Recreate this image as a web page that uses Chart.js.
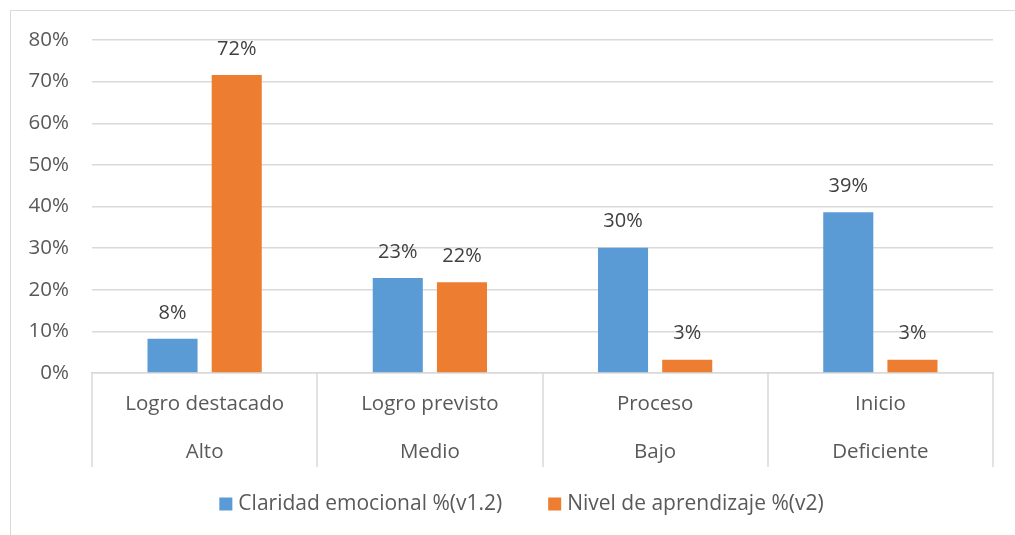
<!DOCTYPE html>
<html>
<head>
<meta charset="utf-8">
<script src="https://cdn.jsdelivr.net/npm/chart.js@4/dist/chart.umd.min.js"></script>
<style>
    html, body { margin: 0; padding: 0; background: #fff; overflow: hidden; }
    #frame {
        position: absolute; left: 10px; top: 10px; width: 1040px; height: 560px;
        border: 1px solid #d9d9d9; box-sizing: border-box;
    }
    #wrap { position: absolute; left: 0; top: 0; width: 1015px; height: 535px; }
</style>
</head>
<body>
<div id="frame"></div>
<div id="wrap"><canvas id="chart"></canvas></div>
<script>
const categories = [
    ['Logro destacado', 'Alto'],
    ['Logro previsto', 'Medio'],
    ['Proceso', 'Bajo'],
    ['Inicio', 'Deficiente']
];
const seriesNames = ['Claridad emocional %(v1.2)', 'Nivel de aprendizaje %(v2)'];
const claridad = [8.2, 22.8, 30.1, 38.6];
const aprendizaje = [71.6, 21.8, 3.2, 3.2];
const yTicks = [0, 10, 20, 30, 40, 50, 60, 70, 80];

const FONT = "'Open Sans', 'DejaVu Sans', sans-serif";
const GRID = '#d9d9d9';

// value labels above each bar
const barLabels = {
    id: 'barLabels',
    afterDatasetsDraw(chart) {
        const ctx = chart.ctx;
        ctx.save();
        ctx.font = `20px ${FONT}`;
        ctx.fillStyle = '#404040';
        ctx.textAlign = 'center';
        ctx.textBaseline = 'middle';
        chart.data.datasets.forEach((ds, i) => {
            chart.getDatasetMeta(i).data.forEach((bar, j) => {
                ctx.fillText(Math.round(ds.data[j]) + '%', bar.x, bar.y - 26);
            });
        });
        ctx.restore();
    }
};

// vertical separators between the category groups
const groupLines = {
    id: 'groupLines',
    afterDraw(chart) {
        const x = chart.scales.x;
        const n = categories.length;
        const ctx = chart.ctx;
        ctx.save();
        ctx.strokeStyle = GRID;
        ctx.lineWidth = 1.5;
        for (let i = 0; i <= n; i++) {
            const px = Math.round(x.left + i * x.width / n);
            ctx.beginPath();
            ctx.moveTo(px, x.top);
            ctx.lineTo(px, x.bottom);
            ctx.stroke();
        }
        ctx.restore();
    }
};

// excel-like legend: small squares, wide gap between entries
const bottomLegend = {
    id: 'bottomLegend',
    afterDraw(chart) {
        const ctx = chart.ctx;
        const box = 13, gapText = 6, gapItem = 46;
        ctx.save();
        ctx.font = `21px ${FONT}`;
        ctx.textBaseline = 'middle';
        ctx.textAlign = 'left';
        const items = chart.data.datasets.map(ds => ({
            text: ds.label, color: ds.backgroundColor,
            w: box + gapText + ctx.measureText(ds.label).width
        }));
        const total = items.reduce((s, it) => s + it.w, 0) + gapItem * (items.length - 1);
        const y = chart.scales.x.bottom + 37;
        let x = chart.width / 2 + 14 - total / 2;
        items.forEach(it => {
            ctx.fillStyle = it.color;
            ctx.fillRect(x, y - box / 2, box, box);
            ctx.fillStyle = '#595959';
            ctx.fillText(it.text, x + box + gapText, y);
            x += it.w + gapItem;
        });
        ctx.restore();
    }
};

new Chart(document.getElementById('chart'), {
    type: 'bar',
    data: {
        labels: categories,
        datasets: [
            { label: seriesNames[0], data: claridad, backgroundColor: '#5b9bd5' },
            { label: seriesNames[1], data: aprendizaje, backgroundColor: '#ed7d31' }
        ]
    },
    options: {
        responsive: true,
        maintainAspectRatio: false,
        animation: false,
        events: [],
        datasets: { bar: { categoryPercentage: 0.57, barPercentage: 0.78 } },
        layout: { padding: { left: 10, right: 22, top: 40, bottom: 68 } },
        scales: {
            x: {
                grid: { display: false, drawTicks: false },
                border: { display: true, color: GRID, width: 1.5 },
                ticks: {
                    color: '#595959', padding: 8,
                    font: { family: FONT, size: 20.5, lineHeight: 2.3 },
                    maxRotation: 0
                },
                afterFit(scale) { scale.height = 94; }
            },
            y: {
                min: 0, max: 80,
                afterBuildTicks(scale) { scale.ticks = yTicks.map(v => ({ value: v })); },
                grid: { color: GRID, lineWidth: 1.5, drawTicks: false },
                border: { display: false },
                ticks: {
                    color: '#595959', padding: 23,
                    font: { family: FONT, size: 20.5 },
                    callback: v => v + '%'
                },
                afterFit(scale) { scale.width = 82; }
            }
        },
        plugins: {
            tooltip: { enabled: false },
            legend: { display: false }
        }
    },
    plugins: [barLabels, groupLines, bottomLegend]
});
</script>
</body>
</html>
